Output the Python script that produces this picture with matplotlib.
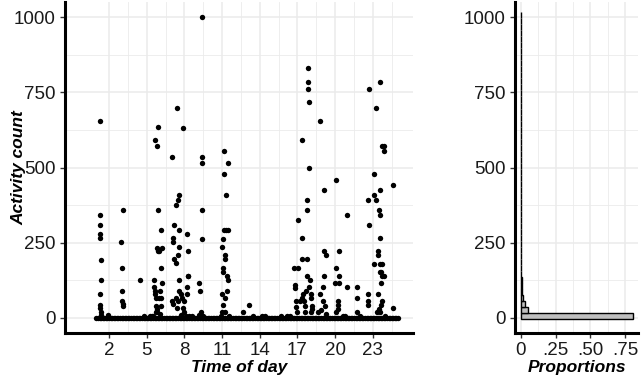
import matplotlib
matplotlib.use("Agg")
import matplotlib.pyplot as plt
import numpy as np

plt.rcParams['font.family'] = ['Liberation Sans', 'DejaVu Sans']

# ---------------- data ----------------
# non-zero activity observations (hour of day, activity count)
act_hours = [
    1.32, 1.32, 1.28, 1.25, 1.30, 1.38, 1.36, 1.30, 1.27, 1.29, 1.40, 1.92, 1.35,
    3.09, 2.96, 3.07, 3.05, 3.07, 3.09, 3.09,
    4.50, 4.80, 5.30,
    5.94, 5.69, 5.79, 5.94, 6.14, 5.79, 6.22, 5.94, 6.00, 6.14, 5.61, 6.24, 5.56,
    5.69, 6.03, 5.66, 5.71, 5.98, 6.16, 5.72, 6.16, 5.80, 5.72, 5.84, 6.05, 5.50, 5.40,
    7.38, 7.89, 7.05, 7.56, 7.50, 7.37, 7.18, 7.58, 8.19, 7.08, 7.13, 7.60, 8.29,
    7.50, 7.18, 7.30, 7.56, 8.29, 8.21, 8.26, 7.56, 7.73, 8.18, 7.30, 7.83, 7.00,
    7.13, 7.50, 8.00, 7.38, 7.88, 7.95, 7.70, 8.10, 8.40, 8.60,
    9.40, 9.38, 9.38, 9.37, 9.38, 9.17, 9.25, 9.30, 9.20, 9.50,
    11.12, 11.50, 11.17, 11.29, 11.12, 11.33, 11.45, 11.07, 11.02, 11.27, 11.21,
    11.10, 11.07, 11.42, 11.45, 11.40, 10.97, 11.27, 11.05, 11.22, 11.00, 11.55, 10.90,
    12.63, 13.14, 13.50, 14.20, 14.40, 15.70, 16.20, 16.40,
    17.88, 17.88, 17.88, 17.92, 17.36, 17.90, 17.77, 17.77, 17.05, 17.36, 17.39,
    17.77, 16.74, 17.08, 17.77, 18.00, 16.84, 16.82, 17.90, 17.72, 18.10, 18.10,
    17.40, 16.92, 17.17, 17.52, 17.60, 18.20, 17.00, 17.60, 18.10, 16.90, 17.45, 18.20,
    18.82, 19.15, 19.15, 19.28, 19.10, 19.00, 18.80, 19.00, 19.20, 18.60, 18.90, 19.30,
    20.08, 20.96, 20.30, 20.08, 20.30, 20.00, 20.30, 20.20, 20.20, 20.96, 20.10,
    20.25, 20.60, 20.80,
    21.77, 21.77, 21.77, 22.63, 22.63, 22.63, 22.00,
    23.54, 22.70, 23.24, 23.77, 23.92, 23.92, 23.06, 24.63, 23.54, 23.10, 23.24,
    22.60, 23.50, 23.60, 22.68, 23.54, 23.40, 23.40, 23.06, 23.54, 23.74, 23.54,
    23.66, 23.74, 23.86, 23.66, 23.40, 23.74, 23.66, 24.63, 23.50, 23.60, 23.30, 24.00,
]
act_counts = [
    653, 342, 309, 280, 265, 194, 127, 79, 42, 33, 10, 10, 20,
    358, 251, 165, 91, 55, 47, 40,
    127, 8, 8,
    633, 592, 572, 358, 293, 234, 234, 221, 221, 165, 127, 115, 103,
    91, 91, 79, 67, 67, 67, 41, 41, 31, 20, 20, 12, 8, 5,
    697, 632, 536, 409, 391, 376, 309, 293, 280, 265, 251, 236, 223,
    208, 195, 181, 127, 138, 103, 140, 91, 79, 79, 67, 67, 55,
    45, 55, 55, 33, 33, 20, 10, 8, 8, 5,
    1000, 536, 514, 358, 263, 116, 91, 20, 10, 8,
    554, 515, 477, 409, 293, 293, 293, 263, 236, 208, 195,
    165, 152, 140, 127, 91, 79, 67, 42, 20, 20, 7, 8,
    20, 42, 7, 7, 7, 7, 8, 8,
    832, 785, 760, 718, 593, 497, 391, 358, 324, 265, 195,
    195, 165, 165, 138, 127, 111, 99, 103, 91, 79, 67,
    67, 55, 55, 55, 40, 40, 20, 20, 20, 35, 80, 30,
    653, 426, 223, 208, 138, 103, 79, 55, 40, 20, 25, 12,
    458, 343, 223, 165, 138, 116, 116, 55, 42, 103, 20,
    30, 8, 8,
    103, 67, 20, 79, 55, 42, 8,
    785, 760, 697, 573, 573, 554, 477, 443, 425, 408, 391,
    391, 358, 343, 309, 265, 223, 208, 180, 180, 180, 152,
    152, 140, 140, 116, 79, 55, 42, 33, 30, 20, 20, 8,
]
# hours of the dense band of zero-count observations
zero_hours = [
    1.000, 1.125, 1.250, 1.375, 1.500, 1.625, 1.750, 1.875,
    2.000, 2.125, 2.250, 2.375, 2.500, 2.625, 2.750, 2.875,
    3.000, 3.125, 3.250, 3.375, 3.500, 3.625, 3.750, 3.875,
    4.000, 4.125, 4.250, 4.375, 4.500, 4.625, 4.750, 4.875,
    5.000, 5.125, 5.250, 5.375, 5.500, 5.625, 5.750, 5.875,
    6.000, 6.125, 6.250, 6.375, 6.500, 6.625, 6.750, 6.875,
    7.000, 7.125, 7.250, 7.375, 7.500, 7.625, 7.750, 7.875,
    8.000, 8.125, 8.250, 8.375, 8.500, 8.625, 8.750, 8.875,
    9.000, 9.125, 9.250, 9.375, 9.500, 9.625, 9.750, 9.875,
    10.000, 10.125, 10.250, 10.375, 10.500, 10.625, 10.750, 10.875,
    11.000, 11.125, 11.250, 11.375, 11.500, 11.625, 11.750, 11.875,
    12.000, 12.125, 12.250, 12.375, 12.500, 12.625, 12.750, 12.875,
    13.000, 13.125, 13.250, 13.375, 13.500, 13.625, 13.750, 13.875,
    14.000, 14.125, 14.250, 14.375, 14.500, 14.625, 14.750, 14.875,
    15.000, 15.125, 15.250, 15.375, 15.500, 15.625, 15.750, 15.875,
    16.000, 16.125, 16.250, 16.375, 16.500, 16.625, 16.750, 16.875,
    17.000, 17.125, 17.250, 17.375, 17.500, 17.625, 17.750, 17.875,
    18.000, 18.125, 18.250, 18.375, 18.500, 18.625, 18.750, 18.875,
    19.000, 19.125, 19.250, 19.375, 19.500, 19.625, 19.750, 19.875,
    20.000, 20.125, 20.250, 20.375, 20.500, 20.625, 20.750, 20.875,
    21.000, 21.125, 21.250, 21.375, 21.500, 21.625, 21.750, 21.875,
    22.000, 22.125, 22.250, 22.375, 22.500, 22.625, 22.750, 22.875,
    23.000, 23.125, 23.250, 23.375, 23.500, 23.625, 23.750, 23.875,
    24.000, 24.125, 24.250, 24.375, 24.500, 24.625, 24.750, 24.875,
    25.000,
]

time_ticks = [2, 5, 8, 11, 14, 17, 20, 23]
count_ticks = [0, 250, 500, 750, 1000]
prop_ticks = [0, 0.25, 0.50, 0.75]
prop_labels = ["0", ".25", ".50", ".75"]

# histogram of activity counts (proportion per bin of width 20)
hist_start = -4
hist_binwidth = 20
hist_props = [
    0.803, 0.052, 0.028, 0.014, 0.010, 0.008, 0.007, 0.006, 0.006, 0.005,
    0.005, 0.005, 0.004, 0.004, 0.004, 0.003, 0.003, 0.003, 0.003, 0.002,
    0.002, 0.002, 0.002, 0.002, 0.002, 0.002, 0.002, 0.002, 0.002, 0.001,
    0.001, 0.001, 0.001, 0.001, 0.001, 0.001, 0.001, 0.001, 0.001, 0.001,
    0.001, 0.001, 0.0005, 0.0005, 0.0005, 0.0005, 0.0005, 0.0005, 0.0005, 0.0005,
    0.0005,
]

# ---------------- figure ----------------
W, H = 641, 380
fig = plt.figure(figsize=(W / 100, H / 100), dpi=100)

def px_axes(x0, y0, x1, y1):
    return fig.add_axes([x0 / W, (H - y1) / H, (x1 - x0) / W, (y1 - y0) / H])

ax = px_axes(65, 2, 413, 333)
axh = px_axes(515, 2, 638, 333)

grid_col = '#EBEBEB'
tick_col = '#1a1a1a'

def style(a):
    a.set_facecolor('white')
    for s in ['top', 'right']:
        a.spines[s].set_visible(False)
    for s in ['left', 'bottom']:
        a.spines[s].set_linewidth(2.2)
        a.spines[s].set_color('black')
    a.tick_params(axis='both', which='major', length=3.5, width=1.0,
                  color='#333333', labelsize=13.5, labelcolor=tick_col, pad=3)
    a.tick_params(axis='both', which='minor', length=0)
    a.grid(True, which='major', color=grid_col, linewidth=1.1, zorder=0)
    a.grid(True, which='minor', color=grid_col, linewidth=0.6, zorder=0)
    a.set_axisbelow(True)

msize = 15
# scatter panel
ax.scatter(zero_hours, [0] * len(zero_hours), s=msize, color='black', linewidths=0, zorder=3)
ax.scatter(act_hours, act_counts, s=msize, color='black', linewidths=0, zorder=3)
ax.set_xlim(-0.2, 26.2)
ax.set_ylim(-50, 1050)
ax.set_xticks(time_ticks)
ax.set_xticks([t + 1.5 for t in [-3] + time_ticks], minor=True)
ax.set_yticks(count_ticks)
ax.set_yticks([125, 375, 625, 875], minor=True)
style(ax)
ax.set_xlabel('Time of day', fontsize=12.5, fontweight='bold', fontstyle='italic')
ax.xaxis.set_label_coords(0.5, -0.082)
ax.set_ylabel('Activity count', fontsize=12.5, fontweight='bold', fontstyle='italic')
ax.yaxis.set_label_coords(-0.11, 0.5)

# histogram panel
bottoms = [hist_start + i * hist_binwidth for i in range(len(hist_props))]
axh.barh(bottoms, hist_props, height=hist_binwidth, left=0, align='edge',
         color='#BFBFBF', edgecolor='black', linewidth=1.0, zorder=3)
axh.set_xlim(-0.04, 0.84)
axh.set_ylim(-50, 1050)
axh.set_xticks(prop_ticks)
axh.set_xticklabels(prop_labels)
axh.set_xticks([0.125, 0.375, 0.625], minor=True)
axh.set_yticks(count_ticks)
axh.set_yticks([125, 375, 625, 875], minor=True)
style(axh)
axh.set_xlabel('Proportions', fontsize=12.5, fontweight='bold', fontstyle='italic')
axh.xaxis.set_label_coords(0.5, -0.082)

fig.savefig('out.png', dpi=100, facecolor='white')
